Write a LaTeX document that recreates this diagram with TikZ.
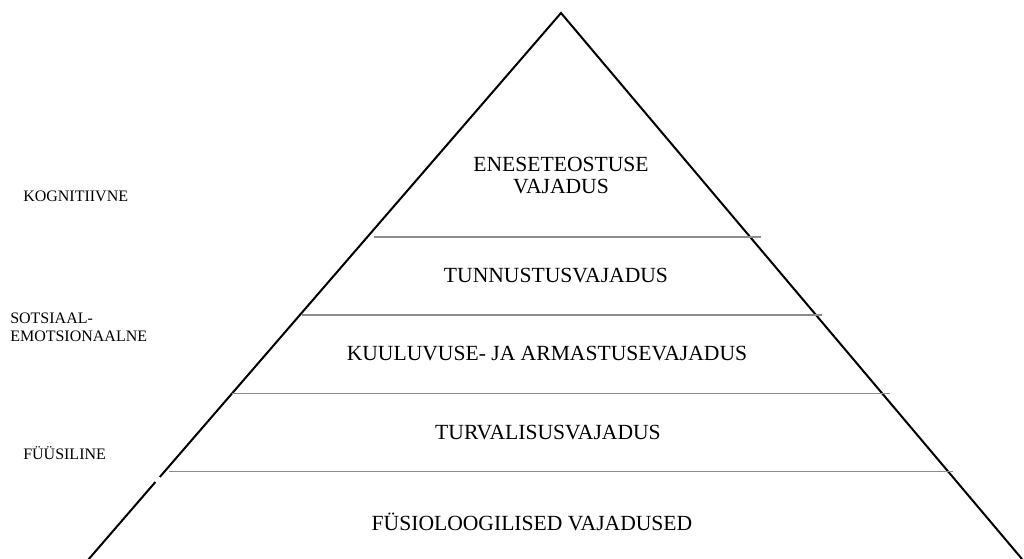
\documentclass[tikz,border=0pt]{standalone}
\usepackage{fontspec}
\setmainfont{Liberation Serif}
\begin{document}
\begin{tikzpicture}[x=0.75pt,y=-0.75pt,
  side/.style={line width=1.5pt},
  level/.style={draw=black!45, line width=0.9pt},
  need/.style={font=\fontsize{16.2}{16.5}\selectfont, align=center, inner sep=0pt},
  arealabel/.style={font=\fontsize{12}{13.5}\selectfont, align=left, anchor=west, inner sep=0pt}]
\useasboundingbox (0,0) rectangle (1024,559);
% pyramid outline
\coordinate (top) at (561,13);
\coordinate (gapA) at (159.8,477);
\coordinate (gapB) at (155.4,482);
\coordinate (bl) at (88,560);
\coordinate (br) at (1022,559);
\draw[side, line join=miter] (gapA) -- (top) -- (br);
\draw[side] (gapB) -- (bl);
% levels
\draw[level] (374,237) -- (761,237);
\draw[level] (302,315) -- (822,315);
\draw[level] (232,393.5) -- (890,393.5);
\draw[level] (169,471.5) -- (953,471.5);
% needs
\node[need] (self) at (561,176) {ENESETEOSTUSE\\VAJADUS};
\node[need] (esteem) at (556,276) {TUNNUSTUSVAJADUS};
\node[need] (love) at (547,354) {KUULUVUSE- JA ARMASTUSEVAJADUS};
\node[need] (safety) at (548,433) {TURVALISUSVAJADUS};
\node[need] (body) at (532,522) {FÜSIOLOOGILISED VAJADUSED};
% areas
\node[arealabel] (cogn) at (23,196) {KOGNITIIVNE};
\node[arealabel] (soc) at (10,327) {SOTSIAAL-\\EMOTSIONAALNE};
\node[arealabel] (phys) at (23,453) {FÜÜSILINE};
\end{tikzpicture}
\end{document}
